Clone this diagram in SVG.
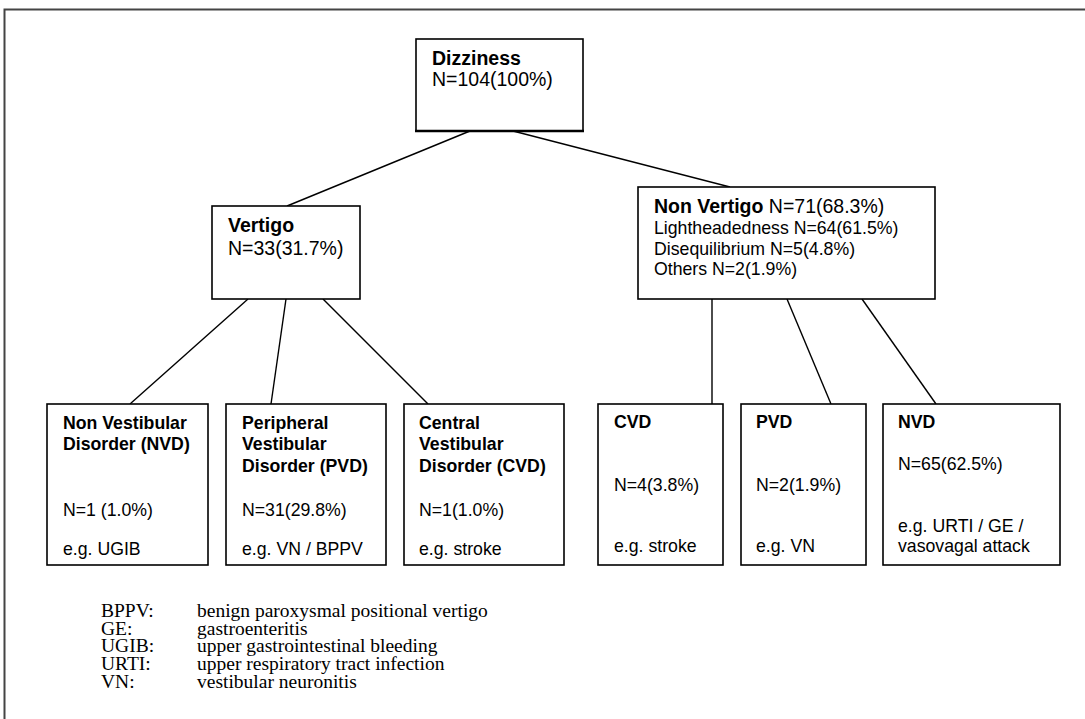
<svg xmlns="http://www.w3.org/2000/svg" width="1085" height="719" viewBox="0 0 1085 719">
<style>
.box{fill:#fff;stroke:#000;stroke-width:1.6}
.t{font-family:"Liberation Sans",Arial,sans-serif;fill:#000}
.big{font-size:19.5px}
.sm{font-size:17.7px}
.b{font-weight:bold}
.lg{font-family:"Liberation Serif","Times New Roman",serif;font-size:19.5px;fill:#000}
.ln{stroke:#000;stroke-width:1.4;fill:none}
</style>
<rect width="1085" height="719" fill="#fff"/>
<g id="frame">
<path d="M4.5,719 V9.5 H1085" fill="none" stroke="#444" stroke-width="2"/>
</g>
<g id="connectors">
<line class="ln" x1="470" y1="131" x2="287" y2="206"/>
<line class="ln" x1="513" y1="131" x2="730" y2="187"/>
<line class="ln" x1="248" y1="299" x2="130" y2="404"/>
<line class="ln" x1="286" y1="299" x2="271" y2="404"/>
<line class="ln" x1="323" y1="299" x2="428" y2="404"/>
<line class="ln" x1="712" y1="299" x2="712" y2="404"/>
<line class="ln" x1="787" y1="299" x2="831" y2="404"/>
<line class="ln" x1="862" y1="299" x2="936" y2="404"/>
</g>
<g id="dizziness">
<rect class="box" x="416" y="39" width="167" height="92"/>
<line x1="415" y1="131" x2="584" y2="131" stroke="#000" stroke-width="2.6"/>
<text class="t big b" x="432" y="65">Dizziness</text>
<text class="t big" x="432" y="86">N=104(100%)</text>
</g>
<g id="vertigo">
<rect class="box" x="212" y="206" width="148" height="93"/>
<text class="t big b" x="228" y="232">Vertigo</text>
<text class="t big" x="228" y="255">N=33(31.7%)</text>
</g>
<g id="nonvertigo">
<rect class="box" x="638" y="187" width="297" height="112"/>
<text class="t big" x="654" y="213"><tspan class="b">Non Vertigo</tspan> N=71(68.3%)</text>
<text class="t sm" x="654" y="234">Lightheadedness N=64(61.5%)</text>
<text class="t sm" x="654" y="255">Disequilibrium N=5(4.8%)</text>
<text class="t sm" x="654" y="275">Others N=2(1.9%)</text>
</g>
<g id="v-nvd">
<rect class="box" x="47" y="404" width="161" height="161"/>
<text class="t sm b" x="63" y="429">Non Vestibular</text>
<text class="t sm b" x="63" y="450">Disorder (NVD)</text>
<text class="t sm" x="63" y="516">N=1 (1.0%)</text>
<text class="t sm" x="63" y="555">e.g. UGIB</text>
</g>
<g id="v-pvd">
<rect class="box" x="226" y="404" width="160" height="161"/>
<text class="t sm b" x="242" y="429">Peripheral</text>
<text class="t sm b" x="242" y="450">Vestibular</text>
<text class="t sm b" x="242" y="472">Disorder (PVD)</text>
<text class="t sm" x="242" y="516">N=31(29.8%)</text>
<text class="t sm" x="242" y="555">e.g. VN / BPPV</text>
</g>
<g id="v-cvd">
<rect class="box" x="404" y="404" width="160" height="161"/>
<text class="t sm b" x="419" y="429">Central</text>
<text class="t sm b" x="419" y="450">Vestibular</text>
<text class="t sm b" x="419" y="472">Disorder (CVD)</text>
<text class="t sm" x="419" y="516">N=1(1.0%)</text>
<text class="t sm" x="419" y="555">e.g. stroke</text>
</g>
<g id="nv-cvd">
<rect class="box" x="598" y="404" width="125" height="161"/>
<text class="t sm b" x="614" y="428">CVD</text>
<text class="t sm" x="614" y="491">N=4(3.8%)</text>
<text class="t sm" x="614" y="552">e.g. stroke</text>
</g>
<g id="nv-pvd">
<rect class="box" x="741" y="404" width="125" height="161"/>
<text class="t sm b" x="756" y="428">PVD</text>
<text class="t sm" x="756" y="491">N=2(1.9%)</text>
<text class="t sm" x="756" y="552">e.g. VN</text>
</g>
<g id="nv-nvd">
<rect class="box" x="883" y="404" width="177" height="161"/>
<text class="t sm b" x="898" y="428">NVD</text>
<text class="t sm" x="898" y="470">N=65(62.5%)</text>
<text class="t sm" x="898" y="532">e.g. URTI / GE /</text>
<text class="t sm" x="898" y="552">vasovagal attack</text>
</g>
<g id="legend">
<text class="lg" x="101" y="617">BPPV:</text><text class="lg" x="197" y="617">benign paroxysmal positional vertigo</text>
<text class="lg" x="101" y="635">GE:</text><text class="lg" x="197" y="635">gastroenteritis</text>
<text class="lg" x="101" y="652">UGIB:</text><text class="lg" x="197" y="652">upper gastrointestinal bleeding</text>
<text class="lg" x="101" y="670">URTI:</text><text class="lg" x="197" y="670">upper respiratory tract infection</text>
<text class="lg" x="101" y="688">VN:</text><text class="lg" x="197" y="688">vestibular neuronitis</text>
</g>
</svg>
